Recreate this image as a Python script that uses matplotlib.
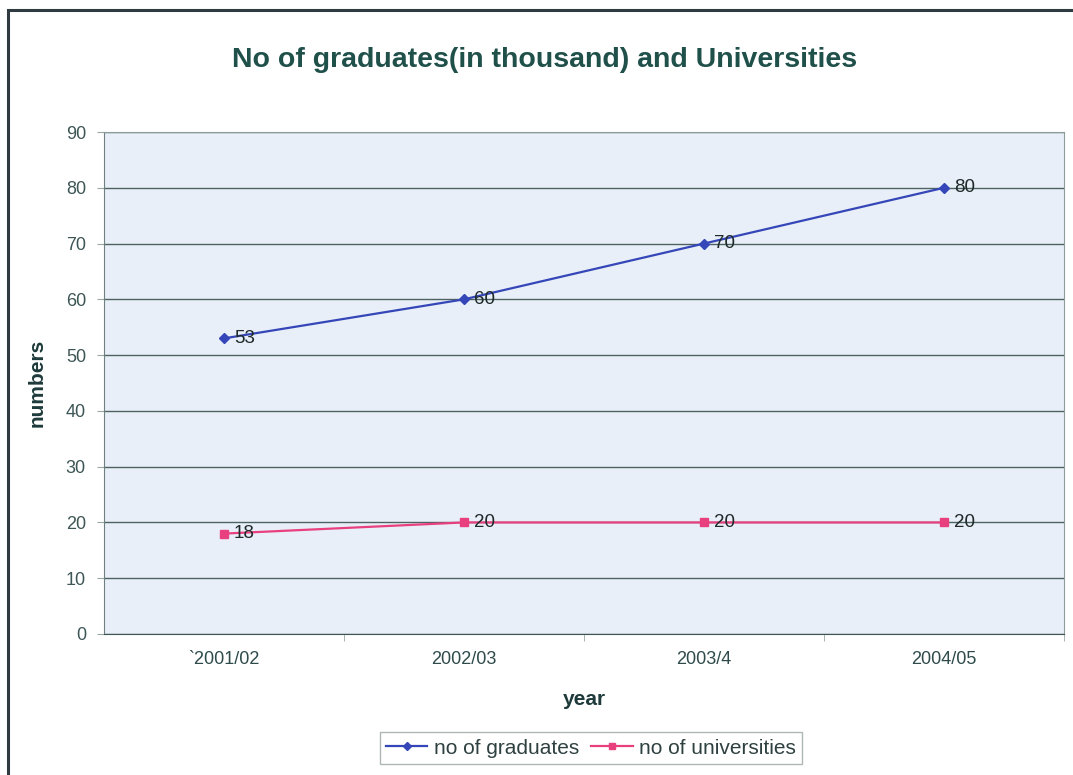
import matplotlib.pyplot as plt
from matplotlib.patches import Rectangle

years = ['`2001/02', '2002/03', '2003/4', '2004/05']
graduates = [53, 60, 70, 80]
universities = [18, 20, 20, 20]

plt.rcParams['font.family'] = ['Liberation Sans', 'DejaVu Sans']

W, H = 1073, 775
fig = plt.figure(figsize=(W / 100, H / 100), dpi=100)
fig.patch.set_facecolor('white')

# outer chart border
fig.patches.append(Rectangle((8 / W, -5 / H), (W + 5) / W, (H - 5) / H,
                             transform=fig.transFigure, fill=False,
                             edgecolor='#2f3b40', linewidth=2.2))

ax = fig.add_axes([104 / W, 1 - 634 / H, 960 / W, 502 / H])
ax.set_facecolor('#e9eff8')

x = range(len(years))
ax.plot(x, graduates, color='#3547b8', marker='D', markersize=5, linewidth=1.6,
        label='no of graduates')
ax.plot(x, universities, color='#e8407f', marker='s', markersize=5.5, linewidth=1.6,
        label='no of universities')

for i, v in enumerate(graduates):
    ax.annotate(str(v), (i, v), textcoords='offset points', xytext=(7, 0),
                va='center', ha='left', fontsize=13.5, color='#1e2a2a')
for i, v in enumerate(universities):
    ax.annotate(str(v), (i, v), textcoords='offset points', xytext=(7, 0),
                va='center', ha='left', fontsize=13.5, color='#1e2a2a')

ax.set_xlim(-0.5, 3.5)
ax.set_ylim(0, 90)
ax.set_yticks(range(0, 91, 10))
ax.set_xticks(list(x))
ax.set_xticklabels(years)
ax.set_xticks([0.5, 1.5, 2.5, 3.5], minor=True)
ax.tick_params(axis='x', which='major', length=0, pad=12, labelsize=13, labelcolor='#2e4a4a')
ax.tick_params(axis='x', which='minor', length=5, color='#9aa6a6')
ax.tick_params(axis='y', length=5, color='#9aa6a6', pad=8, labelsize=13, labelcolor='#3e5656')

ax.grid(axis='y', color='#4d6262', linewidth=1.0)
ax.set_axisbelow(True)
for side in ['top', 'right']:
    ax.spines[side].set_color('#8e9c9c')
ax.spines['left'].set_color('#6f8080')
ax.spines['bottom'].set_color('#3e5656')

ax.set_ylabel('numbers', fontsize=15, fontweight='bold', color='#1e3a3a', labelpad=14)
ax.set_xlabel('year', fontsize=15, fontweight='bold', color='#1e3a3a', labelpad=16)

fig.text(545 / W, 1 - 60 / H, 'No of graduates(in thousand) and Universities',
         ha='center', va='center', fontsize=20.5, fontweight='bold', color='#20504a')

leg = fig.legend(loc='center', bbox_to_anchor=(591 / W, 1 - 748 / H), ncol=2,
                 fontsize=15, frameon=True, fancybox=False, edgecolor='#9aa6a6',
                 handlelength=2.0, columnspacing=0.6, handletextpad=0.3,
                 borderpad=0.3, markerscale=0.8)
for t in leg.get_texts():
    t.set_color('#2e4040')

plt.savefig('out.png', dpi=100)
